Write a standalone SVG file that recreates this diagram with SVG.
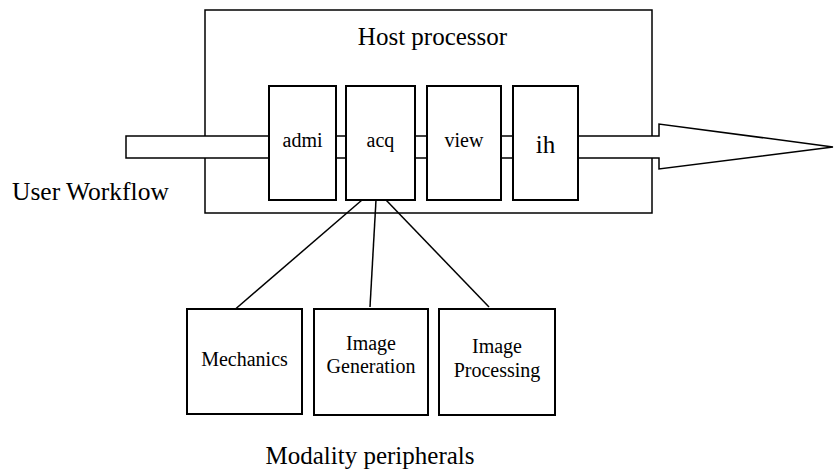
<svg xmlns="http://www.w3.org/2000/svg" width="834" height="474" viewBox="0 0 834 474">
<style>
.t{font-family:"Liberation Serif","Times New Roman",serif;fill:#000}
.box{fill:#fff;stroke:#000;stroke-width:2}
.thin{fill:#fff;stroke:#000;stroke-width:1.5}
.ln{stroke:#000;stroke-width:1.5;fill:none}
</style>
<rect width="834" height="474" fill="#fff"/>
<g id="host">
<rect x="205" y="10" width="447" height="203" class="thin"/>
<text class="t" x="432.5" y="45" font-size="25" text-anchor="middle">Host processor</text>
</g>
<g id="workflow">
<polygon points="126,136 659,136 659,124 833,147 659,169 659,158 126,158" class="thin"/>
<text class="t" x="12" y="200" font-size="25.5">User Workflow</text>
</g>
<g id="admi">
<rect x="269" y="86" width="67" height="114" class="box"/>
<text class="t" x="302.5" y="147" font-size="20" text-anchor="middle">admi</text>
</g>
<g id="acq">
<rect x="346" y="86" width="69" height="114" class="box"/>
<text class="t" x="380.5" y="147" font-size="20" text-anchor="middle">acq</text>
</g>
<g id="view">
<rect x="427" y="86" width="74" height="114" class="box"/>
<text class="t" x="464" y="147" font-size="20" text-anchor="middle">view</text>
</g>
<g id="ih">
<rect x="513" y="86" width="65" height="114" class="box"/>
<text class="t" x="545.5" y="153" font-size="25" text-anchor="middle">ih</text>
</g>
<g id="connectors">
<line x1="362" y1="200" x2="232" y2="312" class="ln"/>
<line x1="376" y1="200" x2="370" y2="307" class="ln"/>
<line x1="386" y1="200" x2="489" y2="307" class="ln"/>
</g>
<g id="mechanics">
<rect x="187" y="309" width="115" height="105" class="box"/>
<text class="t" x="244.5" y="366" font-size="20" text-anchor="middle">Mechanics</text>
</g>
<g id="imagegen">
<rect x="314" y="309" width="114" height="106" class="box"/>
<text class="t" x="371" y="350" font-size="20" text-anchor="middle">Image</text>
<text class="t" x="371" y="373" font-size="20" text-anchor="middle">Generation</text>
</g>
<g id="imageproc">
<rect x="439" y="309" width="116" height="106" class="box"/>
<text class="t" x="497" y="353" font-size="20" text-anchor="middle">Image</text>
<text class="t" x="497" y="377" font-size="20" text-anchor="middle">Processing</text>
</g>
<g id="modality">
<text class="t" x="370" y="464" font-size="25" text-anchor="middle">Modality peripherals</text>
</g>
</svg>
